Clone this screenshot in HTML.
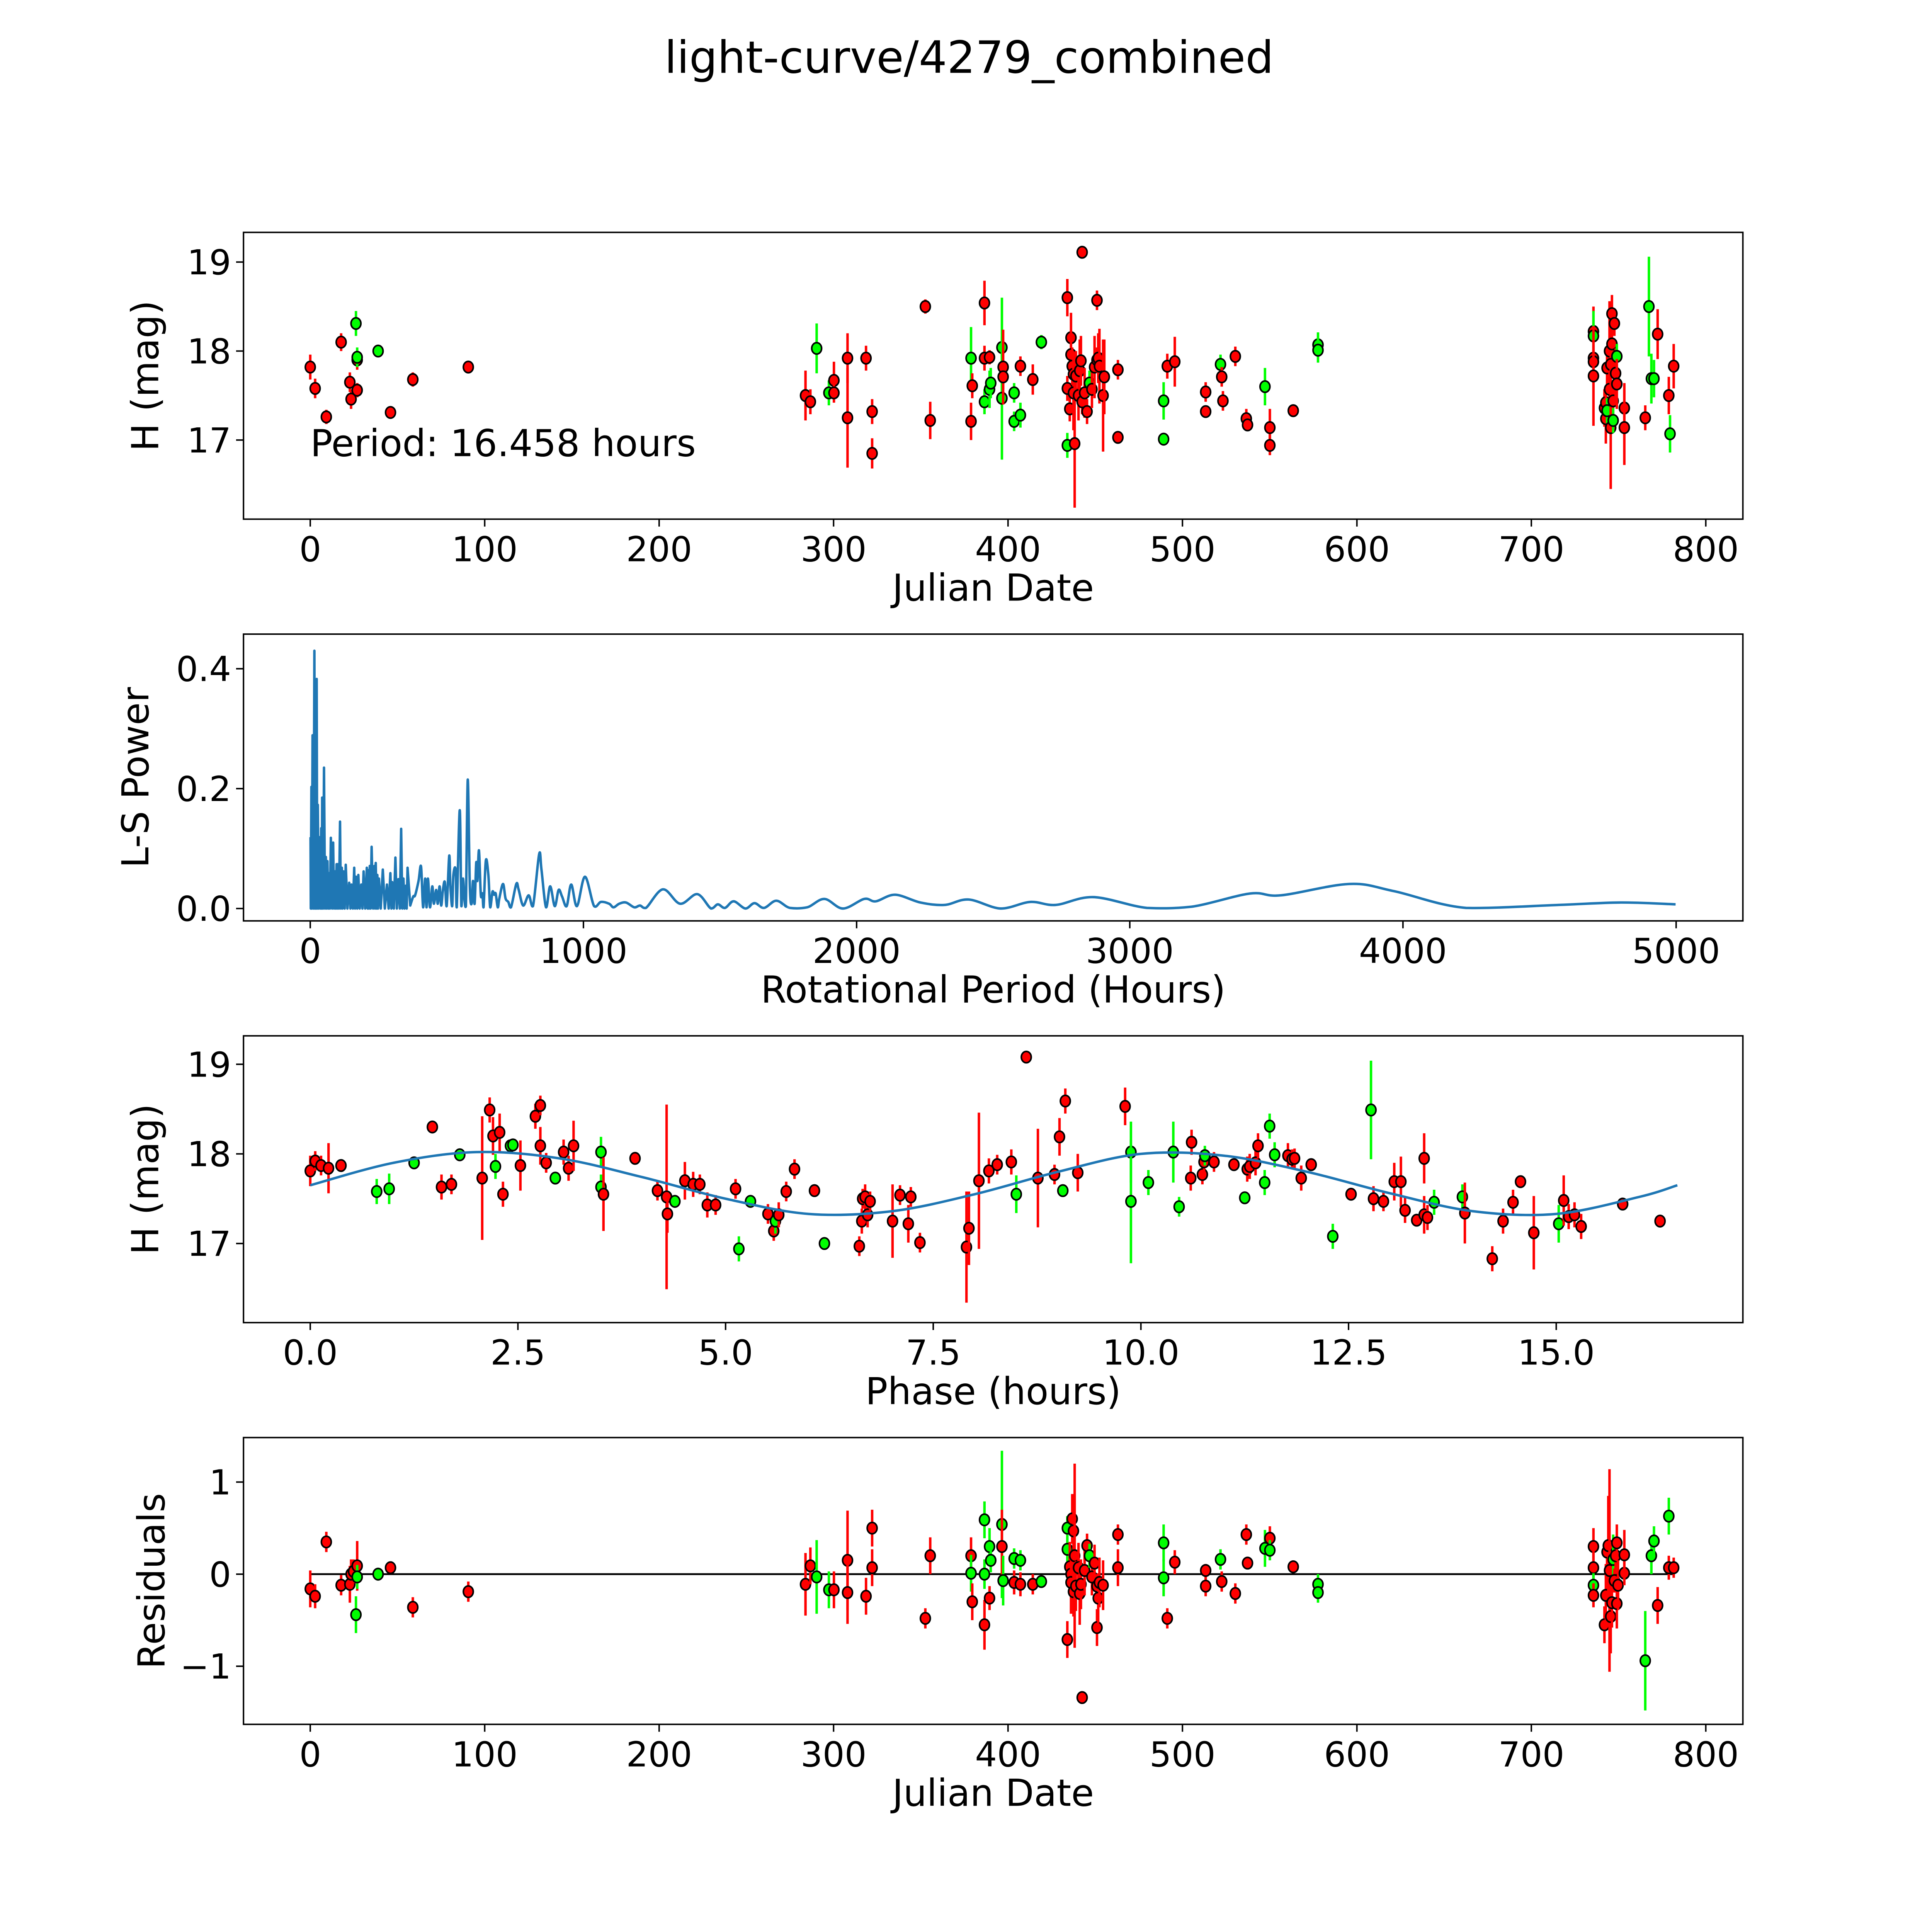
<!DOCTYPE html>
<html><head><meta charset="utf-8"><title>light-curve/4279_combined</title>
<style>html,body{margin:0;padding:0;background:#fff;width:100%;height:100%;overflow:hidden}svg{display:block;width:100vw;height:100vh}text{font-family:"DejaVu Sans","Liberation Sans",sans-serif;fill:#000}</style>
</head><body>
<svg id="fig" xmlns="http://www.w3.org/2000/svg" viewBox="0 0 1563 1563" preserveAspectRatio="none">
<rect x="0" y="0" width="1563" height="1563" fill="#fff"/>
<text x="784" y="59" font-size="36" text-anchor="middle">light-curve/4279_combined</text>
</svg>
<script>
function rep(c,n){return Array(n).fill(c);}
// ---------- Panel 1: light curve ----------
const lcJd=[0,2.8,9.2,17.7,22.7,23.4,26.2,26.9,26.9,38.9,46.0,58.8,90.6,26.9,283.9,286.7,290.3,297.3,300.2,300.2,308.0,308.0,318.6,322.1,322.1,352.6,355.4,378.8,378.8,379.5,386.5,386.5,386.5,389.4,389.4,390.1,396.5,396.5,397.2,397.2,403.5,403.5,407.1,407.1,414.2,419.1,434.0,434.0,434.0,435.4,436.1,436.1,436.8,437.5,437.5,438.2,438.9,440.4,441.1,441.8,442.5,442.5,443.9,445.3,446.7,448.1,449.6,451.0,451.0,451.7,452.4,454.5,455.2,463.0,463.0,489.2,489.2,491.3,495.6,513.3,513.3,521.8,522.5,523.2,530.3,536.6,537.3,547.3,550.1,550.1,563.5,577.7,577.7,735.6,735.6,735.6,735.6,735.6,741.9,742.7,742.7,743.4,743.4,744.8,744.8,745.5,745.5,746.2,746.2,746.9,746.9,747.6,748.3,749.0,749.0,753.3,753.3,765.3,767.4,768.8,770.3,772.4,778.8,779.5,781.6];
const lcMag=[17.82,17.58,17.26,18.10,17.65,17.46,18.31,17.90,17.56,18.00,17.31,17.68,17.82,17.93,17.50,17.43,18.03,17.53,17.67,17.53,17.92,17.25,17.92,17.32,16.85,18.50,17.22,17.92,17.21,17.61,18.54,17.92,17.43,17.93,17.57,17.64,18.04,17.47,17.82,17.71,17.53,17.21,17.83,17.28,17.68,18.10,18.60,17.58,16.94,17.35,18.15,17.96,17.83,17.74,17.53,16.96,17.72,17.50,17.78,17.89,19.11,17.43,17.53,17.32,17.64,17.57,17.82,18.57,17.90,17.92,17.83,17.50,17.71,17.79,17.03,17.44,17.01,17.83,17.88,17.54,17.32,17.85,17.71,17.44,17.94,17.24,17.17,17.60,17.14,16.94,17.33,18.07,18.01,18.22,18.17,17.92,17.88,17.72,17.36,17.42,17.24,17.81,17.33,18.00,17.57,17.85,17.14,18.42,18.08,17.44,17.22,18.31,17.75,17.94,17.63,17.36,17.14,17.25,18.50,17.69,17.69,18.19,17.50,17.07,17.83];
const lcErr=[.14,.11,.08,.10,.11,.11,.14,.11,.08,.07,.07,.08,.07,.11,.28,.14,.28,.14,.21,.11,.28,.56,.14,.14,.17,.08,.21,.35,.21,.14,.25,.14,.14,.08,.21,.17,.56,.69,.42,.14,.11,.11,.11,.14,.17,.08,.21,.14,.14,.14,.28,.28,.21,.21,.42,.72,.28,.28,.35,.28,.07,.14,.28,.14,.14,.21,.35,.11,.14,.28,.42,.63,.42,.11,.07,.21,.07,.14,.28,.11,.07,.11,.11,.11,.11,.11,.07,.21,.21,.11,.07,.14,.14,.28,.28,.14,.11,.56,.21,.14,.28,.21,.14,.56,.14,.28,.69,.21,.14,.21,.14,.14,.28,.14,.28,.28,.42,.14,.56,.28,.21,.28,.21,.21,.25];
const lcBand=[].concat(rep('r',6),['g'],rep('r',2),['g'],rep('r',3),['g'],rep('r',2),rep('g',2),rep('r',9),['g'],rep('r',4),['g'],['r'],rep('g',4),rep('r',2),rep('g',2),['r'],['g'],['r'],['g'],rep('r',2),['g'],rep('r',15),['g'],rep('r',10),rep('g',2),rep('r',4),['g'],rep('r',5),['g'],rep('r',3),rep('g',2),['r'],['g'],rep('r',7),['g'],rep('r',7),['g'],rep('r',2),['g'],rep('r',4),rep('g',3),rep('r',2),['g'],['r']);
// ---------- Panel 2: periodogram ----------
const lsPeriod=[1,2,4.2,6,8.4,12,15.1,17,18.4,21,23.5,25.5,27.7,31,33.5,37,40.2,42,43.6,47,50.3,54,57.0,60,62.9,66,68.7,72,75.4,80,83.8,87,90.5,93,96.4,98.5,100.6,105,109,112,115.6,118,121.5,126,129.9,136,142.5,147,150.8,156,160.9,164,167.6,172,176,181,186.9,191,195.3,201,207,210,212,215,217.9,221,224.6,230,234.6,237,239.7,243,245.5,248,251.4,258,265.6,273,280.7,287,293.3,297,300,306,311.7,317,322.6,328,332.7,337,341.1,345,349.4,353,356.2,366,377,383.8,396.4,405.6,413.1,420.7,425.7,430.7,438.3,446.7,452.5,460.9,466.8,473.5,479.3,486,492.7,499.4,508.7,512.9,519.6,523.8,532.1,536.3,547.2,553.1,558.9,564.8,569.8,576.5,584.1,590.8,595.8,601.7,607.6,611.7,617.6,624.3,630.2,634.4,642.7,652,658.7,667,673,678.8,686.3,692.2,705.6,714.8,724.9,734.9,754.2,762.6,779.3,799.5,815.4,838,846.4,863.1,878.2,895,909.2,921.8,938.6,955.3,976.3,1005.6,1039,1064,1094,1110,1131,1156,1186,1207,1229,1291,1354,1417,1467,1492,1518,1550,1593,1626,1661,1706,1756,1819,1882,1950,2028,2070,2141,2234,2322,2410,2528,2636,2729,2867,3063,3226,3440,3553,3804,3967,4231,4570,4797,4998];
const lsPower=[.119,0,.203,0,.289,0,.430,0,.143,0,.383,0,.173,0,.119,0,.134,0,.185,0,.235,0,.086,0,.079,0,.059,0,.118,0,.110,0,.062,0,.074,0,.074,0,.145,0,.068,0,.062,0,.073,0,.043,0,.040,0,.068,0,.053,0,.056,0,.040,0,.062,0,.068,0,.064,0,.071,0,.103,0,.071,0,.076,0,.056,0,.050,0,.065,0,.040,0,.059,0,.044,0,.085,0,.049,0,.133,0,.050,0,.038,0,.068,.005,.020,.022,.046,.070,.002,.050,.002,.050,.002,.037,.008,.031,.008,.037,.005,.032,.044,.004,.088,.038,.004,.055,.065,.002,.164,.004,.050,.013,.004,.215,.037,.008,.046,.008,.077,.046,.097,.023,.025,.002,.080,.056,.002,.028,.023,.025,.002,.017,.041,.017,.011,.002,.041,.032,.005,.022,.004,.091,.065,.002,.037,.004,.031,.020,.004,.040,.004,.053,.004,.011,.008,.002,.008,.010,.002,.005,.001,.032,.008,.024,0,.007,.001,.012,0,.009,.001,.013,.001,.002,.016,0,.016,.012,.023,.010,.006,.015,0,.011,.006,.019,.001,.003,.025,.022,.041,.029,.001,.006,.010,.007];
// ---------- Panel 3: phased ----------
const phPhase=[0,0.06,0.13,0.22,0.37,0.80,0.95,1.25,1.47,1.58,1.70,1.80,2.07,2.16,2.20,2.23,2.28,2.32,2.41,2.44,2.53,2.71,2.77,2.77,2.84,2.95,3.05,3.11,3.17,3.50,3.50,3.53,3.91,4.18,4.29,4.30,4.39,4.51,4.61,4.69,4.78,4.88,5.12,5.16,5.30,5.51,5.58,5.60,5.64,5.73,5.83,6.07,6.19,6.61,6.64,6.65,6.68,6.71,6.74,7.01,7.10,7.20,7.23,7.34,7.90,7.93,8.05,8.17,8.27,8.44,8.50,8.62,8.76,8.96,9.02,9.06,9.09,9.24,9.81,9.88,9.88,10.09,10.39,10.46,10.60,10.61,10.74,10.76,10.77,10.88,11.12,11.25,11.28,11.31,11.38,11.41,11.49,11.55,11.61,11.77,11.82,11.85,11.93,12.05,12.31,12.53,12.77,12.80,12.92,13.05,13.13,13.18,13.32,13.41,13.41,13.45,13.53,13.87,13.90,14.23,14.36,14.48,14.57,14.73,15.03,15.09,15.15,15.22,15.30,15.80,16.25];
const phMag=[17.81,17.92,17.87,17.84,17.87,17.58,17.61,17.90,18.30,17.63,17.66,17.99,17.73,18.49,18.20,17.86,18.24,17.55,18.09,18.10,17.87,18.42,18.54,18.09,17.90,17.73,18.02,17.84,18.09,18.02,17.63,17.55,17.95,17.59,17.52,17.33,17.47,17.70,17.66,17.66,17.43,17.43,17.61,16.94,17.47,17.33,17.14,17.25,17.32,17.58,17.83,17.59,17.00,16.97,17.25,17.50,17.52,17.32,17.47,17.25,17.54,17.22,17.52,17.01,16.96,17.17,17.70,17.81,17.88,17.91,17.55,19.08,17.73,17.77,18.19,17.59,18.59,17.79,18.53,18.02,17.47,17.68,18.02,17.41,17.73,18.13,17.77,17.91,17.98,17.91,17.88,17.51,17.83,17.86,17.90,18.09,17.68,18.31,17.99,17.98,17.94,17.95,17.73,17.88,17.08,17.55,18.49,17.50,17.47,17.69,17.69,17.37,17.26,17.95,17.32,17.29,17.46,17.52,17.34,16.83,17.25,17.46,17.69,17.12,17.22,17.48,17.30,17.32,17.19,17.44,17.25];
const phErr=[.17,.11,.11,.28,.07,.14,.17,.07,.07,.14,.11,.07,.69,.14,.21,.14,.21,.14,.07,.07,.28,.14,.11,.21,.11,.07,.14,.14,.28,.17,.14,.41,.07,.11,1.03,.21,.07,.21,.14,.11,.14,.11,.11,.14,.07,.11,.11,.14,.14,.11,.11,.07,.04,.11,.14,.11,.14,.14,.11,.41,.11,.21,.11,.11,.62,.41,.76,.14,.11,.14,.21,.07,.55,.11,.21,.07,.14,.21,.21,.34,.69,.14,.34,.11,.14,.14,.11,.14,.11,.11,.07,.07,.14,.14,.14,.14,.14,.14,.14,.14,.11,.11,.14,.07,.14,.07,.55,.14,.11,.21,.28,.14,.07,.28,.21,.14,.14,.14,.34,.14,.14,.14,.07,.41,.21,.28,.14,.14,.14,.07,.07];
const phBand=[].concat(rep('r',5),rep('g',3),rep('r',3),['g'],rep('r',3),['g'],rep('r',2),rep('g',2),rep('r',5),['g'],rep('r',3),rep('g',2),rep('r',5),['g'],rep('r',6),rep('g',2),rep('r',2),['g'],rep('r',4),['g'],rep('r',17),['g'],rep('r',4),['g'],rep('r',3),rep('g',5),rep('r',4),['g'],rep('r',2),['g'],rep('r',4),rep('g',3),rep('r',5),['g'],['r'],['g'],rep('r',9),rep('g',2),rep('r',6),['g'],rep('r',6));
const modelPhase=[0,1,2,3,4,5,6,7,8,9,10,11,12,13,14,15,16,16.458];
const modelMag=[17.65,17.90,18.02,17.95,17.74,17.50,17.33,17.36,17.55,17.80,18.00,17.98,17.80,17.56,17.36,17.33,17.52,17.65];
// ---------- Panel 4: residuals ----------
const rsJd=[0,2.8,9.2,17.7,22.7,23.4,24.8,26.2,26.9,26.9,38.9,46.0,58.8,90.6,283.9,286.7,290.3,297.3,300.2,308.0,308.0,318.6,322.1,322.1,352.6,355.4,378.8,378.8,379.5,386.5,386.5,386.5,389.4,389.4,390.1,396.5,396.5,397.2,403.5,403.5,407.1,407.1,414.2,419.1,434.0,434.0,434.0,435.4,436.1,436.1,436.8,437.5,437.5,438.2,438.9,440.4,441.1,441.8,442.5,443.9,445.3,446.7,448.1,449.6,451.0,451.0,451.7,452.4,454.5,463.0,463.0,489.2,489.2,491.3,495.6,513.3,513.3,521.8,522.5,530.3,536.6,537.3,547.3,550.1,550.1,563.5,577.7,577.7,735.6,735.6,735.6,735.6,741.9,742.7,743.4,744.1,744.8,745.5,746.2,746.9,747.6,748.3,749.0,749.0,749.7,753.3,753.3,765.3,768.8,770.3,772.4,778.8,778.8,781.6];
const rsVal=[-.16,-.24,.35,-.12,-.11,0,.03,-.44,.09,-.03,0,.07,-.36,-.19,-.11,.09,-.03,-.17,-.17,.15,-.20,-.24,.50,.07,-.48,.20,.20,.01,-.30,.59,-.55,0,.30,-.26,.15,.54,.30,-.07,-.09,.17,-.11,.15,-.11,-.08,.50,-.71,.27,.08,0,-.09,.60,.47,-.19,.20,-.13,.07,-.21,-.11,-1.34,.04,.31,.20,-.03,.12,-.58,-.13,-.26,-.09,-.12,.43,.07,.34,-.04,-.48,.13,-.13,.04,.16,-.08,-.21,.43,.12,.28,.39,.26,.08,-.11,-.20,.30,.07,-.12,-.23,-.55,-.23,.24,.31,.04,-.46,-.31,.16,-.07,.20,.34,-.32,-.12,.01,.21,-.94,.20,.36,-.34,.63,.07,.07];
const rsErr=[.20,.13,.11,.11,.20,.16,.13,.20,.27,.13,.07,.07,.11,.11,.34,.20,.40,.20,.20,.54,.34,.20,.20,.20,.11,.20,.20,.20,.20,.20,.27,.16,.20,.13,.13,.80,.40,.27,.13,.11,.13,.11,.11,.07,.13,.20,.13,.27,.20,.34,.27,.40,.27,1.0,.27,.27,.34,.27,.07,.27,.13,.13,.20,.20,.20,.13,.27,.27,.27,.11,.20,.20,.20,.11,.13,.11,.07,.11,.11,.11,.11,.07,.20,.13,.11,.07,.11,.11,.20,.27,.13,.13,.20,.34,.13,.54,1.1,.40,.27,.27,.13,.20,.20,.27,.27,.13,.27,.54,.20,.16,.20,.20,.13,.11];
const rsBand=[].concat(rep('r',7),['g'],['r'],rep('g',2),rep('r',5),rep('g',2),rep('r',9),['g'],['r'],['g'],['r'],rep('g',2),['r'],rep('g',2),['r'],['g'],['r'],['g'],['r'],['g'],['r'],rep('g',2),['r'],['g'],rep('r',14),['g'],rep('r',9),rep('g',2),rep('r',4),['g'],rep('r',4),['g'],['r'],['g'],['r'],rep('g',2),rep('r',2),['g'],rep('r',8),['g'],rep('r',7),rep('g',3),['r'],['g'],rep('r',2));

const NS="http://www.w3.org/2000/svg";
const svg=document.getElementById("fig");
function el(tag,parent){const e=document.createElementNS(NS,tag);(parent||svg).appendChild(e);return e;}
function lin(d0,d1,p0,p1){return v=>p0+(v-d0)*(p1-p0)/(d1-d0);}
const COL={r:"#ff0000",g:"#00ff00"};
function spline(pts,ymax){
 let d="";
 const cl=y=>ymax===undefined?y:Math.min(y,ymax);
 for(let i=0;i<pts.length-1;i++){
  const p0=pts[Math.max(0,i-1)],p1=pts[i],p2=pts[i+1],p3=pts[Math.min(pts.length-1,i+2)];
  d+=" C"+(p1[0]+(p2[0]-p0[0])/6).toFixed(2)+","+cl(p1[1]+(p2[1]-p0[1])/6).toFixed(2)+" "+(p2[0]-(p3[0]-p1[0])/6).toFixed(2)+","+cl(p2[1]-(p3[1]-p1[1])/6).toFixed(2)+" "+p2[0].toFixed(2)+","+p2[1].toFixed(2);
 }
 return d;
}

const panels=[
 {name:"light-curve",top:188,bot:420,x:lin(0,800,251,1380),y:lin(17,19,356,212),xt:[0,100,200,300,400,500,600,700,800],xtl:["0","100","200","300","400","500","600","700","800"],yt:[17,18,19],ytl:["17","18","19"],xl:"Julian Date",yl:"H (mag)",ylx:128},
 {name:"periodogram",top:513,bot:745,x:lin(0,5000,251,1356),y:lin(0,0.4,735,541),xt:[0,1000,2000,3000,4000,5000],xtl:["0","1000","2000","3000","4000","5000"],yt:[0,0.2,0.4],ytl:["0.0","0.2","0.4"],xl:"Rotational Period (Hours)",yl:"L-S Power",ylx:120},
 {name:"phased-curve",top:838,bot:1070,x:lin(0,15,251,1259),y:lin(17,19,1006,861),xt:[0,2.5,5,7.5,10,12.5,15],xtl:["0.0","2.5","5.0","7.5","10.0","12.5","15.0"],yt:[17,18,19],ytl:["17","18","19"],xl:"Phase (hours)",yl:"H (mag)",ylx:128},
 {name:"residuals",top:1163,bot:1395,x:lin(0,800,251,1380),y:lin(-1,1,1348,1199),xt:[0,100,200,300,400,500,600,700,800],xtl:["0","100","200","300","400","500","600","700","800"],yt:[-1,0,1],ytl:["\u22121","0","1"],xl:"Julian Date",yl:"Residuals",ylx:133}
];
const L=197,R=1410;

function errorPoints(g,p,xs,ys,es,bs,nm){
 for(let i=0;i<xs.length;i++){
  const c=COL[bs[i]]||COL.r, cx=p.x(xs[i]), cy=p.y(ys[i]);
  const b=el("line",g);
  
  
  b.setAttribute("x1",cx);b.setAttribute("x2",cx);
  b.setAttribute("y1",p.y(ys[i]-es[i]));b.setAttribute("y2",p.y(ys[i]+es[i]));
  b.setAttribute("stroke",c);b.setAttribute("stroke-width","2");
  const m=el("ellipse",g);
  
  
  m.setAttribute("cx",cx);m.setAttribute("cy",cy);m.setAttribute("rx","4");m.setAttribute("ry","4.6");
  m.setAttribute("fill",c);m.setAttribute("stroke","#000");m.setAttribute("stroke-width","1.3");
 }
}

panels.forEach((p,pi)=>{
 const g=el("g");
 
 
 const clipId="clip"+pi;
 const cp=el("clipPath",g);cp.setAttribute("id",clipId);
 const cr=el("rect",cp);cr.setAttribute("x",L);cr.setAttribute("y",p.top);cr.setAttribute("width",R-L);cr.setAttribute("height",p.bot-p.top);
 const data=el("g",g);
 
 
 data.setAttribute("clip-path","url(#"+clipId+")");
 if(pi===0){errorPoints(data,p,lcJd,lcMag,lcErr,lcBand,"light-curve");}
 if(pi===1){
  const split=lsPeriod.findIndex(v=>v>360);
  let d="M"+p.x(lsPeriod[0]).toFixed(2)+","+p.y(lsPower[0]).toFixed(2);
  for(let i=1;i<=split;i++){d+=" L"+p.x(lsPeriod[i]).toFixed(2)+","+p.y(lsPower[i]).toFixed(2);}
  const rest=[];
  for(let i=split;i<lsPeriod.length;i++){rest.push([p.x(lsPeriod[i]),p.y(lsPower[i])]);}
  d+=spline(rest,p.y(0));
  const pl=el("path",data);
  
  
  pl.setAttribute("d",d);
  pl.setAttribute("fill","none");pl.setAttribute("stroke","#1f77b4");pl.setAttribute("stroke-width","2");pl.setAttribute("stroke-linejoin","round");
 }
 if(pi===2){
  errorPoints(data,p,phPhase,phMag,phErr,phBand,"phased");
  const pts=modelPhase.map((v,i)=>[p.x(v),p.y(modelMag[i])]);
  const mp=el("path",data);
  
  
  mp.setAttribute("d","M"+pts[0][0]+","+pts[0][1]+spline(pts));mp.setAttribute("fill","none");mp.setAttribute("stroke","#1f77b4");mp.setAttribute("stroke-width","2");
 }
 if(pi===3){
  const zl=el("line",data);
  
  
  zl.setAttribute("x1",p.x(0));zl.setAttribute("x2",p.x(781.6));zl.setAttribute("y1",p.y(0));zl.setAttribute("y2",p.y(0));
  zl.setAttribute("stroke","#000");zl.setAttribute("stroke-width","1.5");
  errorPoints(data,p,rsJd,rsVal,rsErr,rsBand,"residual");
 }
 const fr=el("rect",g);
 
 
 fr.setAttribute("x",L);fr.setAttribute("y",p.top);fr.setAttribute("width",R-L);fr.setAttribute("height",p.bot-p.top);
 fr.setAttribute("fill","none");fr.setAttribute("stroke","#000");fr.setAttribute("stroke-width","1.2");
 p.xt.forEach((v,i)=>{
  const X=p.x(v);
  const t=el("line",g);
  
  
  t.setAttribute("x1",X);t.setAttribute("x2",X);t.setAttribute("y1",p.bot);t.setAttribute("y2",p.bot+6);t.setAttribute("stroke","#000");t.setAttribute("stroke-width","1.2");
  const tx=el("text",g);
  
  
  tx.setAttribute("x",X);tx.setAttribute("y",p.bot+34);tx.setAttribute("font-size","28");tx.setAttribute("text-anchor","middle");
  tx.textContent=p.xtl[i];
 });
 p.yt.forEach((v,i)=>{
  const Y=p.y(v);
  const t=el("line",g);
  
  
  t.setAttribute("x1",L-6);t.setAttribute("x2",L);t.setAttribute("y1",Y);t.setAttribute("y2",Y);t.setAttribute("stroke","#000");t.setAttribute("stroke-width","1.2");
  const tx=el("text",g);
  
  
  tx.setAttribute("x",L-10);tx.setAttribute("y",Y+10);tx.setAttribute("font-size","28");tx.setAttribute("text-anchor","end");
  tx.textContent=p.ytl[i];
 });
 const xl=el("text",g);
 
 
 xl.setAttribute("x",(L+R)/2);xl.setAttribute("y",p.bot+66);xl.setAttribute("font-size","30");xl.setAttribute("text-anchor","middle");
 xl.textContent=p.xl;
 const yl=el("text",g);
 
 
 const cy=(p.top+p.bot)/2;
 yl.setAttribute("x",p.ylx);yl.setAttribute("y",cy);yl.setAttribute("font-size","30");yl.setAttribute("text-anchor","middle");
 yl.setAttribute("transform","rotate(-90 "+p.ylx+" "+cy+")");
 yl.textContent=p.yl;
 if(pi===0){
  const an=el("text",g);
  
  
  an.setAttribute("x",251);an.setAttribute("y",369);an.setAttribute("font-size","30");
  an.textContent="Period: 16.458 hours";
 }
});
</script>
</body></html>
